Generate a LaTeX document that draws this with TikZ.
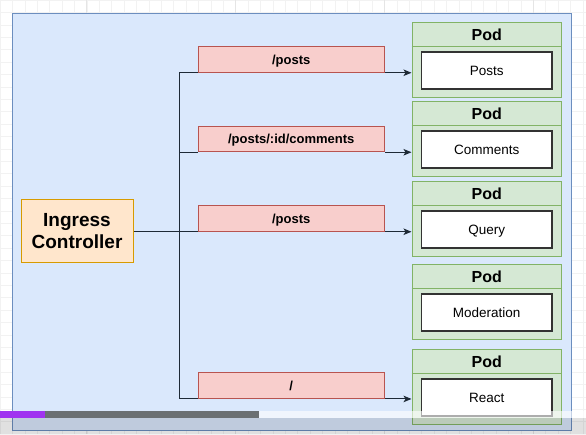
\documentclass[tikz,border=0pt]{standalone}
\usepackage{fontspec}
\setmainfont{Liberation Sans}
\usetikzlibrary{arrows.meta}
\definecolor{framefill}{HTML}{DAE8FC}
\definecolor{frameline}{HTML}{6C8EBF}
\definecolor{ctrlfill}{HTML}{FFE6CC}
\definecolor{ctrlline}{HTML}{D79B00}
\definecolor{pathfill}{HTML}{F8CECC}
\definecolor{pathline}{HTML}{B85450}
\definecolor{podfill}{HTML}{D5E8D4}
\definecolor{podline}{HTML}{82B366}
\definecolor{wireclr}{HTML}{1E2A36}
\definecolor{barpurple}{HTML}{A033F0}
\definecolor{bargray}{HTML}{6B7073}
\tikzset{every node/.style={inner sep=0pt},
 frame/.style={draw=frameline, fill=framefill, line width=1pt},
 ctrlbox/.style={draw=ctrlline, fill=ctrlfill, line width=1pt,
   minimum width=112pt, minimum height=63pt, align=center,
   font=\bfseries\fontsize{19}{22}\selectfont},
 pathbox/.style={draw=pathline, fill=pathfill, line width=1pt,
   minimum width=186.5pt, minimum height=25.5pt,
   text height=9pt, text depth=0pt,
   font=\bfseries\fontsize{13}{15}\selectfont},
 podbox/.style={draw=podline, fill=podfill, line width=1pt,
   minimum width=149.7pt, minimum height=75pt},
 podtitle/.style={text height=11.5pt, text depth=0pt,
   font=\bfseries\fontsize{16}{18}\selectfont},
 svcbox/.style={draw=black!80, fill=white, line width=1.4pt,
   minimum width=130.7pt, minimum height=37pt,
   text height=9.7pt, text depth=0pt,
   font=\fontsize{13.5}{15}\selectfont},
 link/.style={draw=wireclr, line width=1pt},
 route/.style={link, -{Stealth[length=8pt,width=6.5pt,inset=2pt]}},
 gridline/.style={draw=black!5, line width=0.6pt},
}

\begin{document}
\begin{tikzpicture}[x=1pt, y=-1pt]
    \useasboundingbox (0,0) rectangle (586,434);
    \fill[white] (0,0) rectangle (586,434);
    % faint canvas grid
    \foreach \gx in {0,12.4,...,586} {\draw[gridline] (\gx,0) -- (\gx,434);}
    \foreach \gy in {0,12.4,...,434} {\draw[gridline] (0,\gy) -- (586,\gy);}
    \draw[gridline, draw=black!10] (86.7,0) -- (86.7,434);
    \draw[gridline, draw=black!10] (235.7,0) -- (235.7,434);
    \draw[gridline, draw=black!10] (384.7,0) -- (384.7,434);
    \draw[gridline, draw=black!10] (533.7,0) -- (533.7,434);

    % cluster
    \draw[frame] (12,13) rectangle (571,430);

    \node[ctrlbox] (ctrl) at (77,231) {Ingress\\Controller};

    % path rules
    \node[pathbox] (lbl1) at (291.25,59.5) {/posts};
    \node[pathbox] (lbl2) at (291.25,139) {/posts/:id/comments};
    \node[pathbox] (lbl3) at (291.25,218.5) {/posts};
    \node[pathbox] (lbl4) at (291.25,385.7) {/};

    % pods
    \node[podbox] (pod1) at (486.85,59.5) {};
    \node[podbox] (pod2) at (486.85,138.5) {};
    \node[podbox] (pod3) at (486.85,218.5) {};
    \node[podbox] (pod4) at (486.85,301.5) {};
    \node[podbox] (pod5) at (486.85,386.5) {};
    \draw[podline, line width=1pt] ([yshift=-25pt]pod1.north west) -- ([yshift=-25pt]pod1.north east);
    \draw[podline, line width=1pt] ([yshift=-25pt]pod2.north west) -- ([yshift=-25pt]pod2.north east);
    \draw[podline, line width=1pt] ([yshift=-25pt]pod3.north west) -- ([yshift=-25pt]pod3.north east);
    \draw[podline, line width=1pt] ([yshift=-25pt]pod4.north west) -- ([yshift=-25pt]pod4.north east);
    \draw[podline, line width=1pt] ([yshift=-25pt]pod5.north west) -- ([yshift=-25pt]pod5.north east);
    \node[podtitle] (head1) at (486.85,34.5) {Pod};
    \node[podtitle] (head2) at (486.85,113.5) {Pod};
    \node[podtitle] (head3) at (486.85,193.5) {Pod};
    \node[podtitle] (head4) at (486.85,276.5) {Pod};
    \node[podtitle] (head5) at (486.85,361.5) {Pod};
    \node[svcbox] (svc1) at (486.7,70.5) {Posts};
    \node[svcbox] (svc2) at (486.7,149.5) {Comments};
    \node[svcbox] (svc3) at (486.7,229.5) {Query};
    \node[svcbox] (svc4) at (486.7,312.5) {Moderation};
    \node[svcbox] (svc5) at (486.7,397.5) {React};

    % wiring
    \coordinate (split) at (179.5,231);
    \draw[link] (ctrl.east) -- (split);
    \draw[link] (split) |- (lbl1.south west);
    \draw[link] (split) |- (lbl2.south west);
    \draw[link] (split) |- (lbl3.south west);
    \draw[link] (split) |- (lbl4.south west);
    \draw[route] (lbl1.south east) -- (lbl1.south east -| pod1.west);
    \draw[route] (lbl2.south east) -- (lbl2.south east -| pod2.west);
    \draw[route] (lbl3.south east) -- (lbl3.south east -| pod3.west);
    \draw[route] (lbl4.south east) -- (lbl4.south east -| pod5.west);

    % player overlay
    \fill[black, fill opacity=0.12] (0,418) rectangle (586,434);
    \fill[white, fill opacity=0.6] (259,411) rectangle (586,418);
    \fill[bargray] (45,411) rectangle (259,418);
    \fill[barpurple] (0,411) rectangle (45,418);
\end{tikzpicture}
\end{document}
